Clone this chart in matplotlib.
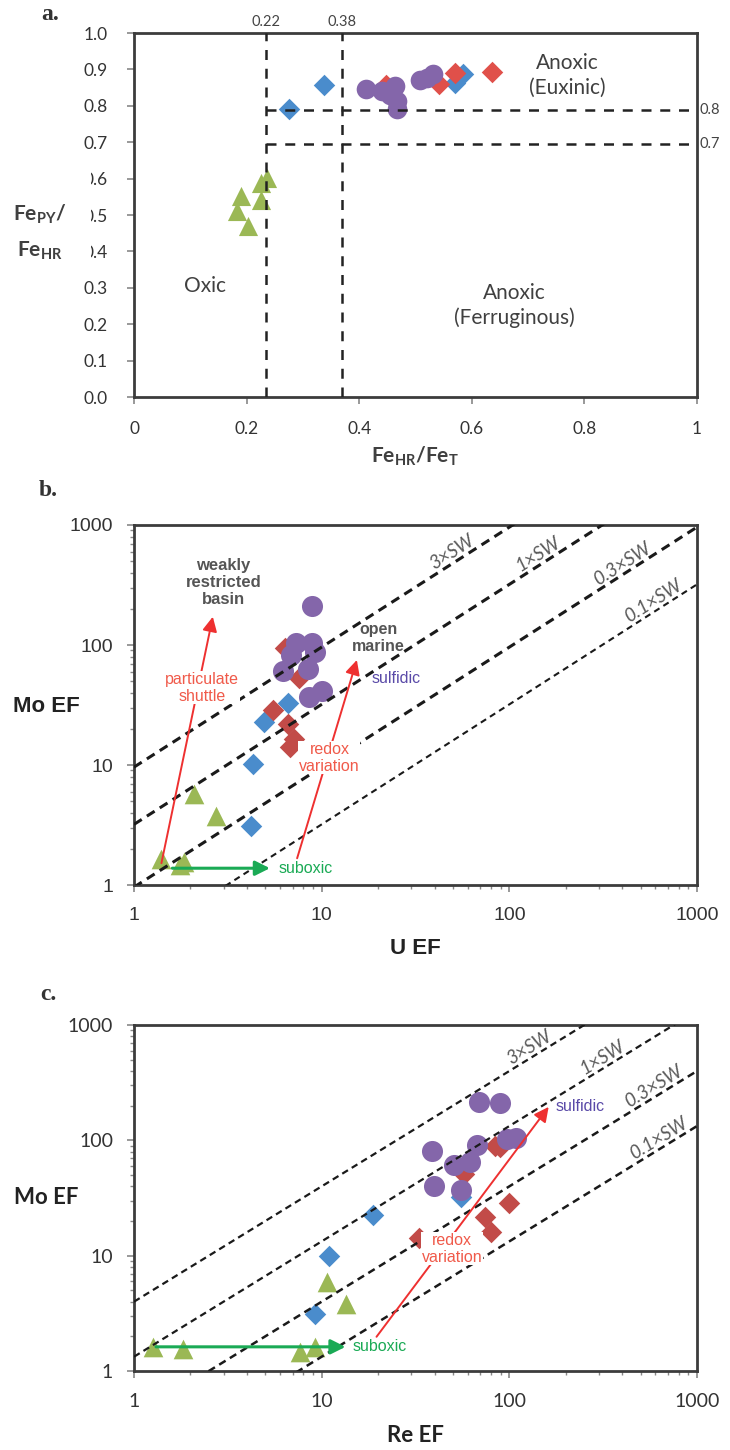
import numpy as np
import matplotlib
matplotlib.use('Agg')
import matplotlib.pyplot as plt
from matplotlib.patches import Rectangle

plt.rcParams['font.family'] = ['Lato', 'DejaVu Sans']
plt.rcParams['mathtext.fontset'] = 'custom'
plt.rcParams['mathtext.rm'] = 'Lato'
plt.rcParams['mathtext.bf'] = 'Lato:bold'
plt.rcParams['mathtext.default'] = 'regular'

# colores
c_blue = '#4a8ccc'
c_red_a = '#e0504a'
c_red = '#c24b48'
c_purple = '#8466aa'
c_green = '#9bb855'
c_dark = '#3c3c3c'
c_txt_red = '#f05a4a'
c_txt_green = '#1aaa55'
c_txt_purple = '#5a4aa8'

# ---------------- datos panel a (FeHR/FeT, FePY/FeHR)
a_green_x = [0.19, 0.183, 0.202, 0.226, 0.236, 0.226]
a_green_y = [0.551, 0.51, 0.47, 0.589, 0.603, 0.54]
a_blue_x = [0.275, 0.338, 0.571, 0.584]
a_blue_y = [0.79, 0.858, 0.863, 0.886]
a_red_x = [0.447, 0.542, 0.571, 0.636]
a_red_y = [0.858, 0.861, 0.891, 0.893]
a_purple_x = [0.412, 0.441, 0.464, 0.467, 0.467, 0.455, 0.508, 0.52, 0.531]
a_purple_y = [0.847, 0.84, 0.854, 0.813, 0.79, 0.83, 0.87, 0.877, 0.886]

# ---------------- datos panel b (U EF, Mo EF)
b_green_x = [1.4, 1.85, 1.76, 2.1, 2.74]
b_green_y = [1.64, 1.56, 1.47, 5.7, 3.76]
b_blue_x = [4.2, 4.3, 4.9, 6.6]
b_blue_y = [3.1, 10.1, 23, 33]
b_red_x = [6.4, 7.6, 5.5, 6.6, 7.1, 6.8]
b_red_y = [94, 53, 28.7, 22, 16.4, 14.2]
b_purple_x = [8.9, 7.3, 8.9, 9.2, 6.9, 6.2, 8.5, 8.6, 10.0]
b_purple_y = [211, 103, 103, 88, 83, 61, 63, 37, 41]

# ---------------- datos panel c (Re EF, Mo EF)
c_green_x = [1.27, 1.83, 7.7, 9.2, 10.7, 13.4]
c_green_y = [1.62, 1.54, 1.47, 1.62, 5.9, 3.8]
c_blue_x = [9.2, 11.0, 18.7, 55]
c_blue_y = [3.1, 10.0, 22.5, 32]
c_red_x = [33, 57, 74, 80, 99.5, 84, 89]
c_red_y = [14.2, 51, 21.7, 16.1, 28.8, 90, 87]
c_purple_x = [69, 89, 38.7, 67, 97, 109, 50.5, 62, 39.6, 55]
c_purple_y = [215, 209, 81, 92, 103, 104, 61, 65, 40, 37]

# lineas de agua de mar (Mo/U y Mo/Re)
sw_labels = ['3\u00d7SW', '1\u00d7SW', '0.3\u00d7SW', '0.1\u00d7SW']
sw_mult = [3, 1, 0.3, 0.1]
b_sw_ratio = 3.2
c_sw_ratio = 1.33
b_lab_x = [52, 150, 420, 620]
c_lab_x = [135, 330, 620, 660]

W, H = 730, 1450
fig = plt.figure(figsize=(7.3, 14.5), dpi=100)


def ax_rect(left, top, right, bottom):
    return [left / W, 1 - bottom / H, (right - left) / W, (bottom - top) / H]


def style_spines(ax):
    for s in ax.spines.values():
        s.set_color(c_dark)
        s.set_linewidth(2)
    ax.tick_params(which='both', direction='out', color='#888888', top=False, right=False)


# ================= panel a
ax = fig.add_axes(ax_rect(134, 33, 697, 397))
ax.set_xlim(0, 1)
ax.set_ylim(0, 1)
style_spines(ax)
ax.set_xticks(np.arange(0, 1.01, 0.2))
ax.set_xticklabels(['0', '0.2', '0.4', '0.6', '0.8', '1'])
ax.set_yticks(np.arange(0, 1.01, 0.1))
ax.set_yticklabels(['%.1f' % v for v in np.arange(0, 1.01, 0.1)])
ax.tick_params(labelsize=12.5, labelcolor='#333333', length=5, width=1.2)
ax.tick_params(axis='y', pad=14)
ax.tick_params(axis='x', pad=12)

ax.scatter(a_green_x, a_green_y, marker='^', s=190, color=c_green, zorder=3, lw=0)
ax.scatter(a_blue_x, a_blue_y, marker='D', s=120, color=c_blue, zorder=3, lw=0)
ax.scatter(a_red_x, a_red_y, marker='D', s=120, color=c_red_a, zorder=3, lw=0)
ax.scatter(a_purple_x, a_purple_y, marker='o', s=200, color=c_purple, zorder=4, lw=0)

dash = (0, (4, 3.5))
ax.axvline(0.234, color='#222222', lw=1.8, ls=dash, zorder=5)
ax.axvline(0.37, color='#222222', lw=1.8, ls=dash, zorder=5)
ax.plot([0.234, 1.0], [0.788, 0.788], color='#222222', lw=1.8, ls=dash, zorder=5, clip_on=False)
ax.plot([0.234, 1.0], [0.694, 0.694], color='#222222', lw=1.8, ls=dash, zorder=5, clip_on=False)
ax.text(0.234, 1.012, '0.22', ha='center', va='bottom', fontsize=10.5, color='#444444')
ax.text(0.37, 1.012, '0.38', ha='center', va='bottom', fontsize=10.5, color='#444444')
ax.text(1.005, 0.788, '0.8', ha='left', va='center', fontsize=10.5, color='#444444')
ax.text(1.005, 0.694, '0.7', ha='left', va='center', fontsize=10.5, color='#444444')

ax.text(0.126, 0.306, 'Oxic', ha='center', va='center', fontsize=15, color='#404040')
ax.text(0.676, 0.251, 'Anoxic\n(Ferruginous)', ha='center', va='center', fontsize=15,
        color='#404040', linespacing=1.3)
ax.text(0.77, 0.884, 'Anoxic\n(Euxinic)', ha='center', va='center', fontsize=15,
        color='#404040', linespacing=1.3)

fig.text(415 / W, 1 - 456 / H, r'$\mathbf{Fe_{HR}/Fe_{T}}$', ha='center', va='center',
         fontsize=15, color='#404040')
fig.patches.append(Rectangle((10 / W, 1 - 262 / H), 81 / W, 92 / H, transform=fig.transFigure,
                             facecolor='white', edgecolor='none', zorder=4))
fig.text(40 / W, 1 - 214 / H, r'$\mathbf{Fe_{PY}/}$', ha='center', va='center', fontsize=15,
         color='#404040', zorder=5)
fig.text(40 / W, 1 - 251 / H, r'$\mathbf{Fe_{HR}}$', ha='center', va='center', fontsize=15,
         color='#404040', zorder=5)


# ================= paneles b y c
def log_panel(rect, fam):
    ax = fig.add_axes(rect)
    ax.set_xscale('log')
    ax.set_yscale('log')
    ax.set_xlim(1, 1000)
    ax.set_ylim(1, 1000)
    style_spines(ax)
    ax.set_xticks([1, 10, 100, 1000])
    ax.set_xticklabels(['1', '10', '100', '1000'])
    ax.set_yticks([1, 10, 100, 1000])
    ax.set_yticklabels(['1', '10', '100', '1000'])
    ax.tick_params(which='major', length=5, width=1.2, labelsize=14, labelcolor='#333333')
    ax.tick_params(axis='y', which='major', pad=10)
    ax.tick_params(axis='x', which='major', pad=11)
    ax.tick_params(which='minor', length=3, width=1.0)
    for lab in ax.get_xticklabels() + ax.get_yticklabels():
        lab.set_family(fam)
    return ax


def sw_lines(ax, ratio, lab_x, widths, dashes):
    p0 = ax.transData.transform((1, 1))
    p1 = ax.transData.transform((1000, 1000))
    ang = np.degrees(np.arctan2(p1[1] - p0[1], p1[0] - p0[0]))
    xs = np.logspace(0, 3, 100)
    for lab, m, lx, lw, ds in zip(sw_labels, sw_mult, lab_x, widths, dashes):
        k = ratio * m
        ax.plot(xs, k * xs, color='#1a1a1a', lw=lw, ls=(0, ds), zorder=5)
        ax.text(lx, k * lx * 1.03, lab, rotation=ang, rotation_mode='anchor', ha='center',
                va='bottom', fontsize=13.5, style='italic', color='#5a5a5a', zorder=6)


def arrow(ax, start, end, color, lw, ms):
    ax.annotate('', xy=end, xytext=start,
                arrowprops=dict(arrowstyle='-|>', color=color, lw=lw, mutation_scale=ms,
                                shrinkA=0, shrinkB=0), zorder=6)


def markers(ax, gx, gy, bx, by, rx, ry, px, py):
    ax.scatter(gx, gy, marker='^', s=200, color=c_green, zorder=3, lw=0)
    ax.scatter(bx, by, marker='D', s=120, color=c_blue, zorder=3, lw=0)
    ax.scatter(rx, ry, marker='D', s=120, color=c_red, zorder=3, lw=0)
    ax.scatter(px, py, marker='o', s=230, color=c_purple, zorder=4, lw=0)


narrow = ['Liberation Sans Narrow', 'Liberation Sans', 'DejaVu Sans']

# ---- b
axb = log_panel(ax_rect(134, 525, 697, 885), narrow)
markers(axb, b_green_x, b_green_y, b_blue_x, b_blue_y, b_red_x, b_red_y, b_purple_x, b_purple_y)
sw_lines(axb, b_sw_ratio, b_lab_x, [2.2, 2.2, 2.2, 1.5], [(3, 2), (3, 2), (3, 2), (3, 2.2)])
arrow(axb, (1.4, 1.52), (2.63, 172), '#ee3030', 1.4, 22)
arrow(axb, (7.4, 1.67), (15.4, 75), '#ee3030', 1.4, 22)
arrow(axb, (1.6, 1.38), (5.3, 1.38), '#1aaa55', 2.2, 22)
axb.text(3.0, 330, 'weakly\nrestricted\nbasin', ha='center', va='center', fontsize=12,
         fontweight='bold', color='#555555', family=narrow, linespacing=1.15)
axb.text(20, 115, 'open\nmarine', ha='center', va='center', fontsize=11.5, fontweight='bold',
         color='#555555', family=narrow, linespacing=1.15, zorder=7)
axb.text(18.5, 53, 'sulfidic', ha='left', va='center', fontsize=11.5, color=c_txt_purple,
         family=narrow, zorder=7)
axb.text(2.3, 44, 'particulate\nshuttle', ha='center', va='center', fontsize=11.5,
         color=c_txt_red, family=narrow, linespacing=1.15, zorder=7,
         bbox=dict(facecolor='white', edgecolor='none', pad=0.5))
axb.text(11, 11.5, 'redox\nvariation', ha='center', va='center', fontsize=11.5,
         color=c_txt_red, family=narrow, linespacing=1.15, zorder=7,
         bbox=dict(facecolor='white', edgecolor='none', pad=0.5))
axb.text(5.9, 1.38, 'suboxic', ha='left', va='center', fontsize=11.5, color=c_txt_green,
         family=narrow, zorder=7)
fig.text(415 / W, 1 - 948 / H, 'U EF', ha='center', va='center', fontsize=16,
         fontweight='bold', color='#222222', family=narrow)
fig.text(46 / W, 1 - 707 / H, 'Mo EF', ha='center', va='center', fontsize=16,
         fontweight='bold', color='#222222', family=narrow)

# ---- c
axc = log_panel(ax_rect(134, 1025, 697, 1371), ['Lato', 'DejaVu Sans'])
markers(axc, c_green_x, c_green_y, c_blue_x, c_blue_y, c_red_x, c_red_y, c_purple_x, c_purple_y)
sw_lines(axc, c_sw_ratio, c_lab_x, [1.6, 1.6, 1.8, 1.8], [(3, 2), (3, 2), (3, 2), (3, 2)])
arrow(axc, (19.6, 1.98), (162, 195), '#ee3030', 1.4, 22)
arrow(axc, (1.31, 1.62), (13.4, 1.62), '#1aaa55', 2.2, 22)
axc.text(177, 195, 'sulfidic', ha='left', va='center', fontsize=11.5, color=c_txt_purple,
         family=narrow, zorder=7)
axc.text(49.5, 11.5, 'redox\nvariation', ha='center', va='center', fontsize=11.5,
         color=c_txt_red, family=narrow, linespacing=1.15, zorder=7,
         bbox=dict(facecolor='white', edgecolor='none', pad=0.5))
axc.text(14.6, 1.62, 'suboxic', ha='left', va='center', fontsize=11.5, color=c_txt_green,
         family=narrow, zorder=7)
fig.text(415 / W, 1 - 1435 / H, 'Re EF', ha='center', va='center', fontsize=16,
         fontweight='bold', color='#222222')
fig.text(46 / W, 1 - 1198 / H, 'Mo EF', ha='center', va='center', fontsize=16,
         fontweight='bold', color='#222222')

# letras de los paneles
for lab, x, y in [('a.', 50, 15), ('b.', 48, 490), ('c.', 48, 995)]:
    fig.text(x / W, 1 - y / H, lab, ha='center', va='center', fontsize=17, fontweight='bold',
             family=['Liberation Serif', 'DejaVu Serif'], color='#333333')

fig.savefig('out.png', dpi=100)
